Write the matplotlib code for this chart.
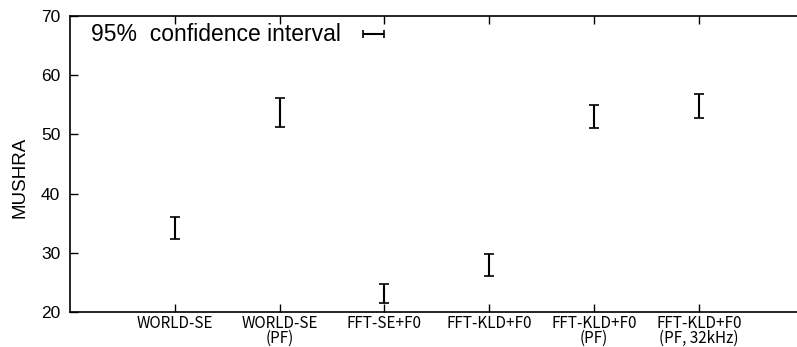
import numpy as np
import matplotlib
matplotlib.use('Agg')
import matplotlib.pyplot as plt

plt.rcParams['font.family'] = ['Liberation Sans', 'DejaVu Sans']

# 各手法のラベルと95%信頼区間(下限/上限)
labels = ['WORLD-SE', 'WORLD-SE\n(PF)', 'FFT-SE+F0', 'FFT-KLD+F0', 'FFT-KLD+F0\n(PF)', 'FFT-KLD+F0\n(PF, 32kHz)']
ci_low = [32.3, 51.3, 21.5, 26.0, 51.0, 52.8]
ci_high = [36.1, 56.1, 24.7, 29.8, 55.0, 56.9]

low = np.array(ci_low)
high = np.array(ci_high)
mean = (low + high) / 2
err = (high - low) / 2
x = np.arange(1, len(labels) + 1)

fig = plt.figure(figsize=(7.97, 3.47), dpi=100)
# 右端は画像外まで伸ばす(元画像は右側が切れている)
ax = fig.add_axes([70/797, 35/347, 733.6/797, 296/347])

ax.errorbar(x, mean, yerr=err, fmt='none', ecolor='black', elinewidth=1.5,
            capsize=3.6, capthick=1.2)

ax.set_xlim(0, 7)
ax.set_ylim(20, 70)
ax.set_yticks([20, 30, 40, 50, 60, 70])
ax.set_xticks(x)
ax.set_xticklabels(labels, family=['Noto Sans CJK JP', 'DejaVu Sans'], fontsize=11,
                   linespacing=0.82)
ax.tick_params(axis='y', direction='in', length=6, width=1, labelsize=12.5, pad=7)
ax.tick_params(axis='x', direction='in', length=6, width=1, top=True, pad=2)
for s in ax.spines.values():
    s.set_linewidth(1.2)
ax.set_ylabel('MUSHRA', fontsize=13.5)
ax.yaxis.set_label_coords(-0.057, 0.456)

# 凡例(gnuplot風: テキストの右にサンプル)
ax.text(0.0286, 0.937, '95%  confidence interval', transform=ax.transAxes,
        fontsize=16.5, va='center', ha='left')
ax.errorbar([0.4137], [0.939], xerr=[0.0143], transform=ax.transAxes, fmt='none',
            ecolor='black', elinewidth=1.5, capsize=3, capthick=1.2, clip_on=False)

fig.savefig('out.png', dpi=100)
